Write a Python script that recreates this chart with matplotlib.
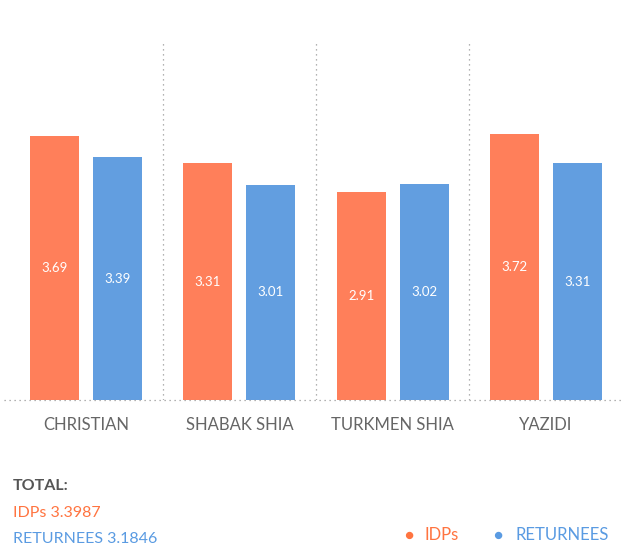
import matplotlib.pyplot as plt
import numpy as np

plt.rcParams['font.family'] = ['Lato', 'DejaVu Sans']

categories = ['CHRISTIAN', 'SHABAK SHIA', 'TURKMEN SHIA', 'YAZIDI']
idps = [3.69, 3.31, 2.91, 3.72]
returnees = [3.39, 3.01, 3.02, 3.31]
total_idps = '3.3987'
total_returnees = '3.1846'

orange = '#FF7F5A'
blue = '#629EE0'
orange_txt = '#FF7440'
blue_txt = '#5A9BE2'
gray = '#666666'

fig = plt.figure(figsize=(6.4, 5.46), dpi=100)
ax = fig.add_axes([0.0145, 0.2674, 0.9585, 0.6556])

x = np.arange(len(categories))
w = 0.32
off = 0.205
b1 = ax.bar(x - off, idps, w, color=orange)
b2 = ax.bar(x + off, returnees, w, color=blue)

for bars, vals in ((b1, idps), (b2, returnees)):
    for b, v in zip(bars, vals):
        ax.text(b.get_x() + b.get_width() / 2, v / 2, '%.2f' % v,
                ha='center', va='center', color='white', fontsize=9.5)

for s in x[:-1] + 0.5:
    ax.axvline(s, color='#999999', linestyle=(0, (1, 3)), linewidth=0.9)

ax.set_xlim(-0.5, 3.5)
ax.set_ylim(0, 5)
for sp in ax.spines.values():
    sp.set_visible(False)
ax.set_yticks([])
ax.set_xticks(x)
ax.set_xticklabels(categories, fontsize=12, color=gray)
ax.tick_params(axis='x', length=0, pad=12)
ax.axhline(0, xmin=-0.008, xmax=1.0, color='#999999', linestyle=(0, (1, 3)),
           linewidth=0.9, clip_on=False)

fig.text(0.02, 0.102, 'TOTAL:', fontsize=11.5, fontweight='bold', color='#555555')
fig.text(0.02, 0.054, 'IDPs ' + total_idps, fontsize=11.5, color=orange_txt)
fig.text(0.02, 0.006, 'RETURNEES ' + total_returnees, fontsize=11.5, color=blue_txt)

fig.text(0.631, 0.012, '●', fontsize=11, color=orange_txt)
fig.text(0.664, 0.011, 'IDPs', fontsize=12, color=orange_txt)
fig.text(0.770, 0.012, '●', fontsize=11, color=blue_txt)
fig.text(0.806, 0.011, 'RETURNEES', fontsize=12, color=blue_txt)

fig.savefig('out.png', dpi=100)
